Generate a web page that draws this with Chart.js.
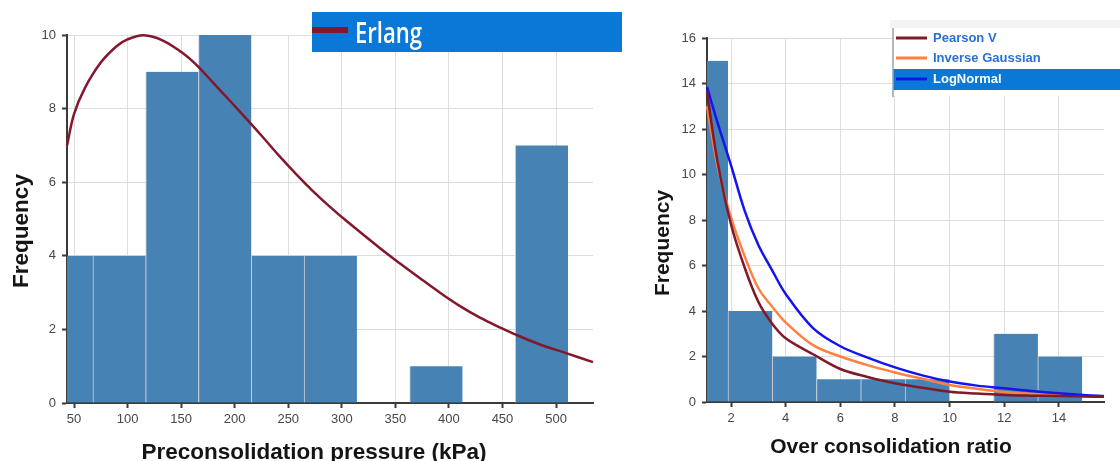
<!DOCTYPE html>
<html>
<head>
<meta charset="utf-8">
<script src="https://cdn.jsdelivr.net/npm/chart.js@4"></script>
<style>
  html, body { margin: 0; padding: 0; background: #ffffff; }
  .box { position: absolute; top: 0; height: 461px; }
</style>
</head>
<body>
<div class="box" style="left:0;width:640px;"><canvas id="c1"></canvas></div>
<div class="box" style="left:640px;width:480px;"><canvas id="c2"></canvas></div>
<script>
// ---------- Left chart data: Preconsolidation pressure ----------
const leftBinCenters = [43.06, 92.34, 141.62, 190.9, 240.18, 289.46, 338.74, 388.02, 437.3, 486.58];
const leftCounts     = [4, 4, 9, 10, 4, 4, 0, 1, 0, 7];
const erlangX = [43.5, 50, 60, 75, 90, 100, 115, 133, 152, 165, 180, 196, 211, 227, 242, 258, 273, 289, 305, 336, 354, 373, 392, 410, 429, 448, 463, 485, 510, 534.5];
const erlangY = [7.0, 7.85, 8.55, 9.25, 9.7, 9.88, 9.99, 9.85, 9.5, 9.17, 8.7, 8.2, 7.72, 7.2, 6.7, 6.2, 5.76, 5.33, 4.93, 4.2, 3.8, 3.39, 2.99, 2.64, 2.32, 2.05, 1.85, 1.59, 1.35, 1.11];
const leftXTicks = [50, 100, 150, 200, 250, 300, 350, 400, 450, 500];
const leftYTicks = [0, 2, 4, 6, 8, 10];
const leftLegend = ['Erlang'];

// ---------- Right chart data: Over consolidation ratio ----------
const rightBinCenters = [1.08, 2.70, 4.32, 5.94, 7.56, 9.18, 10.80, 12.42, 14.04];
const rightCounts     = [15, 4, 2, 1, 1, 1, 0, 3, 2];
const ocrX        = [1.12, 1.5, 2, 2.5, 3, 3.5, 4, 5, 6, 7, 8, 9, 10, 11, 12, 13, 14, 15, 15.65];
const pearsonY    = [13.6, 10.6, 7.8, 5.9, 4.4, 3.45, 2.8, 2.1, 1.45, 1.1, 0.82, 0.63, 0.45, 0.37, 0.31, 0.28, 0.26, 0.24, 0.23];
const invGaussY   = [13.0, 10.4, 8.1, 6.4, 5.0, 4.2, 3.5, 2.5, 2.0, 1.62, 1.3, 1.02, 0.75, 0.58, 0.44, 0.36, 0.3, 0.25, 0.23];
const logNormalY  = [13.85, 12.3, 10.4, 8.4, 6.9, 5.8, 4.75, 3.25, 2.45, 1.95, 1.52, 1.17, 0.9, 0.72, 0.6, 0.48, 0.38, 0.3, 0.26];
const rightXTicks = [2, 4, 6, 8, 10, 12, 14];
const rightYTicks = [0, 2, 4, 6, 8, 10, 12, 14, 16];
const rightLegend = ['Pearson V', 'Inverse Gaussian', 'LogNormal'];

// ---------- Styles ----------
const BAR = '#4682b4';
const ERLANG = '#85172c';
const PEARSON = '#7f1a2a';
const INVG = '#ff8040';
const LOGN = '#1414f0';
const LEGEND_BLUE = '#0a78d7';
const FONT = '"Liberation Sans", Arial, sans-serif';

const pairs = (xs, ys) => xs.map((x, i) => ({ x: x, y: ys[i] }));

function makeScales(xMin, xMax, xTicks, yMax, yTicks, yWidth, xHeight) {
  const common = {
    grid: { color: '#dddddd', lineWidth: 1, tickColor: '#3a3a3a', tickLength: 5, tickWidth: 2, offset: false },
    border: { display: true, color: '#3a3a3a', width: 2 },
    ticks: { color: '#474747', font: { family: FONT, size: 13 } }
  };
  return {
    x: Object.assign({}, common, {
      type: 'linear', min: xMin, max: xMax, offset: false,
      afterBuildTicks: s => { s.ticks = xTicks.map(v => ({ value: v })); },
      afterFit: s => { s.height = xHeight; },
      ticks: Object.assign({}, common.ticks, { padding: 4, maxRotation: 0, autoSkip: false })
    }),
    y: Object.assign({}, common, {
      type: 'linear', min: 0, max: yMax,
      afterBuildTicks: s => { s.ticks = yTicks.map(v => ({ value: v })); },
      afterFit: s => { s.width = yWidth; },
      ticks: Object.assign({}, common.ticks, { padding: 6 })
    })
  };
}

function overlay(spec) {
  return {
    id: 'overlay',
    afterDraw(chart) {
      const ctx = chart.ctx;
      ctx.save();
      ctx.fillStyle = '#141414';
      ctx.font = 'bold ' + spec.titleSize + 'px ' + FONT;
      ctx.textAlign = 'center';
      ctx.textBaseline = 'alphabetic';
      ctx.fillText(spec.xTitle, spec.xTitlePos[0], spec.xTitlePos[1]);
      ctx.save();
      ctx.translate(spec.yTitlePos[0], spec.yTitlePos[1]);
      ctx.rotate(-Math.PI / 2);
      ctx.textBaseline = 'middle';
      ctx.fillText(spec.yTitle, 0, 0);
      ctx.restore();
      spec.legend(ctx, chart);
      ctx.restore();
    }
  };
}

const lineStyle = { pointRadius: 0, tension: 0.35, cubicInterpolationMode: 'default', fill: false, clip: 3, borderWidth: 2.5 };

// ---------- Left chart ----------
new Chart(document.getElementById('c1'), {
  type: 'bar',
  data: {
    datasets: [
      Object.assign({ type: 'line', label: leftLegend[0], data: pairs(erlangX, erlangY), borderColor: ERLANG, order: 1 }, lineStyle),
      {
        type: 'bar', label: 'Frequency', data: pairs(leftBinCenters, leftCounts),
        backgroundColor: BAR, borderColor: '#c9ced4', borderWidth: { left: 1, right: 0, top: 0, bottom: 0 },
        borderSkipped: false, barPercentage: 1, categoryPercentage: 1, order: 2, clip: 0
      }
    ]
  },
  options: {
    responsive: true, maintainAspectRatio: false, animation: false, devicePixelRatio: 1,
    layout: { padding: { top: 35, right: 47, left: 0, bottom: 0 } },
    plugins: { legend: { display: false }, tooltip: { enabled: false } },
    scales: makeScales(43.46, 534.5, leftXTicks, 10, leftYTicks, 67, 58)
  },
  plugins: [overlay({
    titleSize: 22.5,
    xTitle: 'Preconsolidation pressure (kPa)', xTitlePos: [314, 459],
    yTitle: 'Frequency', yTitlePos: [22, 231],
    legend(ctx) {
      ctx.fillStyle = LEGEND_BLUE;
      ctx.fillRect(312, 12, 310, 40);
      ctx.strokeStyle = ERLANG; ctx.lineWidth = 6;
      ctx.beginPath(); ctx.moveTo(312, 30); ctx.lineTo(348, 30); ctx.stroke();
      ctx.fillStyle = '#ffffff';
      ctx.font = '600 29px "Open Sans", "Noto Sans", sans-serif';
      ctx.textAlign = 'left'; ctx.textBaseline = 'alphabetic';
      const w = ctx.measureText(leftLegend[0]).width;
      ctx.save();
      ctx.translate(355, 43);
      ctx.scale(67 / w, 1);
      ctx.fillText(leftLegend[0], 0, 0);
      ctx.restore();
    }
  })]
});

// ---------- Right chart ----------
new Chart(document.getElementById('c2'), {
  type: 'bar',
  data: {
    datasets: [
      Object.assign({ type: 'line', label: rightLegend[2], data: pairs(ocrX, logNormalY), borderColor: LOGN, order: 1 }, lineStyle),
      Object.assign({ type: 'line', label: rightLegend[1], data: pairs(ocrX, invGaussY), borderColor: INVG, order: 1 }, lineStyle),
      Object.assign({ type: 'line', label: rightLegend[0], data: pairs(ocrX, pearsonY), borderColor: PEARSON, order: 0 }, lineStyle),
      {
        type: 'bar', label: 'Frequency', data: pairs(rightBinCenters, rightCounts),
        backgroundColor: BAR, borderColor: '#c9ced4', borderWidth: { left: 1, right: 0, top: 0, bottom: 0 },
        borderSkipped: false, barPercentage: 1, categoryPercentage: 1, order: 2, clip: 0
      }
    ]
  },
  options: {
    responsive: true, maintainAspectRatio: false, animation: false, devicePixelRatio: 1,
    layout: { padding: { top: 38, right: 16, left: 0, bottom: 0 } },
    plugins: { legend: { display: false }, tooltip: { enabled: false } },
    scales: makeScales(1.12, 15.65, rightXTicks, 16, rightYTicks, 67, 59)
  },
  plugins: [overlay({
    titleSize: 21,
    xTitle: 'Over consolidation ratio', xTitlePos: [251, 453],
    yTitle: 'Frequency', yTitlePos: [23, 243],
    legend(ctx) {
      ctx.fillStyle = '#f3f3f3';
      ctx.fillRect(250, 20, 230, 8);
      ctx.fillStyle = '#ffffff';
      ctx.fillRect(253, 28, 227, 68);
      ctx.fillStyle = LEGEND_BLUE;
      ctx.fillRect(253, 69, 227, 21);
      ctx.strokeStyle = '#9aa0a8'; ctx.lineWidth = 1.5;
      ctx.beginPath(); ctx.moveTo(253, 28); ctx.lineTo(253, 97); ctx.stroke();
      const rows = [
        { label: rightLegend[0], color: PEARSON, y: 38, text: '#2a6fd6' },
        { label: rightLegend[1], color: INVG, y: 58, text: '#2a6fd6' },
        { label: rightLegend[2], color: LOGN, y: 79, text: '#ffffff' }
      ];
      ctx.font = 'bold 13px ' + FONT;
      ctx.textAlign = 'left'; ctx.textBaseline = 'middle';
      rows.forEach(r => {
        ctx.strokeStyle = r.color; ctx.lineWidth = 3;
        ctx.beginPath(); ctx.moveTo(256, r.y); ctx.lineTo(287, r.y); ctx.stroke();
        ctx.fillStyle = r.text;
        ctx.fillText(r.label, 293, r.y + 0.5);
      });
    }
  })]
});
</script>
</body>
</html>
